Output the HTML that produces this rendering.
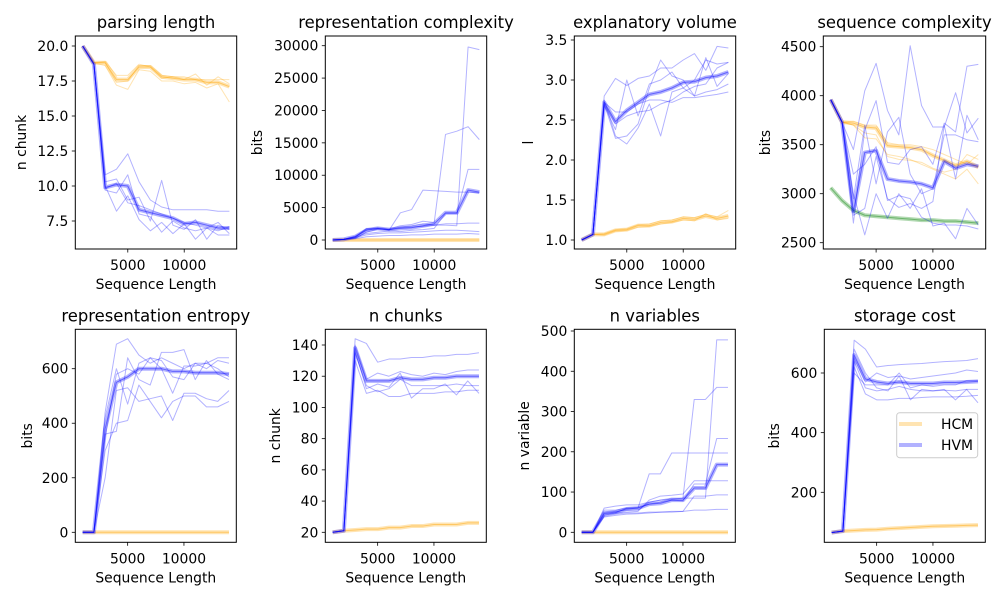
<!DOCTYPE html>
<html><head><meta charset="utf-8"><style>
body{margin:0;background:#fff}
svg{display:block;font-family:"DejaVu Sans","Liberation Sans",sans-serif}
</style></head><body>
<svg id="fig" width="1000" height="600" viewBox="0 0 1000 600"></svg>
<script>
const xs=[1000,2000,3000,4000,5000,6000,7000,8000,9000,10000,11000,12000,13000,14000];
const xTicks=[5000,10000];
// Panel 1 parsing length
const p1Hcm=[20,18.8,18.8,17.6,17.6,18.5,18.5,17.8,17.7,17.6,17.6,17.4,17.4,17.1];
const p1Hvm=[20,18.7,9.9,10.1,10.0,8.3,8.1,7.9,7.7,7.3,7.4,7.2,7.0,7.0];
const p1HvmRuns=[[20,18.7,10.8,11.2,12.3,10.3,9.0,8.5,8.3,8.3,8.3,8.3,8.2,8.2],[20,18.7,10.0,8.2,9.3,7.6,6.8,7.4,6.6,7.3,6.2,7.0,6.5,6.5],[20,18.7,10.3,10.5,9.0,9.2,7.5,10.4,7.2,6.9,7.6,6.2,7.2,6.9],[20,18.7,9.7,9.5,10.8,8.0,7.8,6.7,7.5,7.0,6.8,7.0,6.8,7.1],[20,18.7,9.8,10.2,8.8,8.6,8.3,8.0,7.7,7.4,7.2,7.0,7.4,6.6]];
const p1HcmRuns=[[20,18.8,18.6,17.2,16.9,18.3,18.2,17.5,17.5,17.3,17.4,17.0,17.3,16.0],[20,18.8,18.8,17.4,17.5,18.6,18.6,17.9,17.8,17.6,18.0,17.2,17.8,17.3],[20,18.8,18.9,17.9,17.9,18.7,18.5,17.7,17.8,17.8,17.6,17.6,17.6,17.6]];
const p1Ticks=[7.5,10.0,12.5,15.0,17.5,20.0];
// Panel 2 representation complexity
const p2Hcm=[0,0,0,0,0,0,0,0,0,0,0,0,0,0];
const p2Hvm=[0,100,500,1500,1800,1600,1800,1900,2200,2500,4200,4200,7700,7400];
const p2HvmRuns=[[0,100,400,1800,1800,1500,4200,4700,7700,7600,7500,7400,7400,7300],[0,100,600,1700,1900,1700,2200,2400,2900,2700,16300,16800,17500,15500],[0,100,300,1200,1700,1600,2000,2200,2500,2300,2300,2200,29800,29400],[0,100,400,1000,1200,1400,1300,1500,1600,1800,4100,4100,10900,10900],[0,100,300,800,1000,1100,1100,1200,1300,1400,1500,1500,1400,1300],[0,80,200,500,600,700,700,800,800,900,900,900,1000,900],[0,100,500,1600,1700,1600,1900,2000,2100,2300,2500,2500,2600,2600]];
const p2Ticks=[0,5000,10000,15000,20000,25000,30000];
// Panel 3 explanatory volume
const p3Hcm=[1.0,1.07,1.07,1.12,1.13,1.18,1.18,1.22,1.23,1.27,1.26,1.30,1.27,1.30];
const p3Hvm=[1.0,1.07,2.72,2.48,2.62,2.72,2.82,2.85,2.90,2.97,2.98,3.03,3.05,3.10];
const p3HvmRuns=[[1,1.07,2.8,3.02,2.93,3.02,3.05,3.15,3.15,3.25,3.33,3.12,3.42,3.40],[1,1.07,2.75,2.30,2.20,2.40,2.70,2.30,2.85,2.90,3.0,3.25,3.2,3.22],[1,1.07,2.7,2.27,2.30,2.45,2.90,3.25,3.05,3.0,2.8,3.28,2.92,3.08],[1,1.07,2.68,2.38,3.0,2.55,2.95,3.0,3.1,2.9,2.8,2.85,2.88,2.95],[1,1.07,2.72,2.6,2.6,2.7,2.75,2.75,2.72,2.78,2.78,2.8,2.82,2.85],[1,1.07,2.7,2.45,2.55,2.6,2.62,2.7,2.75,2.85,2.92,2.95,3.15,3.22]];
const p3HcmRuns=[[1,1.07,1.06,1.11,1.12,1.16,1.17,1.2,1.22,1.25,1.24,1.33,1.25,1.27],[1,1.07,1.08,1.13,1.14,1.19,1.2,1.24,1.25,1.29,1.28,1.32,1.29,1.37]];
const p3Ticks=[1.0,1.5,2.0,2.5,3.0,3.5];
// Panel 4 sequence complexity
const p4Hcm=[3960,3730,3720,3680,3670,3490,3480,3470,3450,3390,3340,3290,3330,3270];
const p4Hvm=[3960,3730,2820,3420,3440,3150,3130,3120,3100,3060,3330,3260,3300,3280];
const p4Green=[3060,2930,2830,2780,2770,2760,2750,2740,2730,2730,2720,2720,2710,2700];
const p4HvmRuns=[[3960,3730,3450,4050,4330,3850,3600,4510,3900,3680,3680,4030,3620,3770],[3960,3730,2700,3650,3950,3320,3300,3450,3480,3300,3720,3630,4300,4320],[3960,3730,3000,2580,3000,2750,3000,2850,3050,2670,2700,2540,2850,2680],[3960,3730,2950,3700,3100,3630,3780,3200,3000,3050,3600,3600,3550,3530],[3960,3730,2780,2850,3380,2950,2860,2900,2850,2920,3700,3150,3800,3550],[3960,3730,3200,3300,3480,2930,2980,2950,2760,2700,2680,2680,2670,2640]];
const p4HcmRuns=[[3960,3730,3700,3570,3560,3400,3380,3350,3300,3250,3200,3150,3250,3100],[3960,3730,3700,3620,3600,3380,3350,3340,3320,3260,3220,3250,3400,3350],[3960,3730,3740,3700,3700,3520,3500,3500,3480,3450,3400,3350,3300,3400]];
const p4Ticks=[2500,3000,3500,4000,4500];
// Panel 5 representation entropy
const p5Hcm=[0,0,0,0,0,0,0,0,0,0,0,0,0,0];
const p5Hvm=[0,0,380,550,570,600,600,600,590,590,585,585,585,580];
const p5HvmRuns=[[0,0,440,690,710,650,620,640,620,600,620,600,630,620],[0,0,360,370,640,560,540,660,660,670,560,630,580,560],[0,0,300,400,410,540,480,420,480,500,500,460,460,480],[0,0,200,520,530,480,490,500,410,510,510,490,480,520],[0,0,420,600,470,620,640,600,510,610,610,620,600,570],[0,0,350,580,600,580,640,630,570,560,620,620,640,640]];
const p5Ticks=[0,200,400,600];
// Panel 6 n chunks
const p6Hcm=[20,21,21.5,22,22,23,23,24,24,25,25,25,26,26];
const p6Hvm=[20,21,138,117,117,117,119,118,118,119,119,120,120,120];
const p6HvmRuns=[[20,21,144,141,129,131,131,132,132,133,133,134,134,135],[20,21,130,109,111,107,107,109,109,109,110,110,111,111],[20,21,136,112,115,113,122,106,112,112,115,108,117,109],[20,21,140,118,122,120,123,121,120,122,121,123,124,124],[20,21,135,114,110,112,118,114,114,114,114,115,114,114]];
const p6Ticks=[20,40,60,80,100,120,140];
// Panel 7 n variables
const p7Hcm=[0,0,0,0,0,0,0,0,0,0,0,0,0,0];
const p7Hvm=[0,0,47,50,58,60,70,72,80,80,110,110,168,168];
const p7HvmRuns=[[0,0,55,55,60,60,145,145,197,197,197,197,197,197],[0,0,50,52,55,55,75,80,82,85,330,330,360,360],[0,0,60,65,68,68,75,80,85,85,85,85,478,478],[0,0,45,48,60,62,70,75,80,78,120,120,233,233],[0,0,40,45,48,48,50,50,52,52,55,55,57,57],[0,0,42,48,50,52,80,90,92,95,128,128,128,128],[0,0,38,42,45,46,48,50,50,52,90,90,93,93]];
const p7Ticks=[0,100,200,300,400,500];
// Panel 8 storage cost
const p8Hcm=[65,70,72,74,75,78,80,82,84,86,87,88,89,90];
const p8Hvm=[65,70,660,580,570,565,570,565,565,565,568,568,570,572];
const p8HvmRuns=[[65,70,710,680,620,625,628,630,632,635,638,640,642,648],[65,70,620,530,510,510,515,515,518,520,520,520,522,525],[65,70,680,600,550,540,590,510,545,540,545,510,545,500],[65,70,650,570,600,585,590,580,585,590,595,600,610,605],[65,70,640,550,540,545,555,545,540,540,542,540,545,545],[65,70,600,560,560,560,600,550,560,555,560,560,575,575]];
const p8Ticks=[200,400,600];

const NS="http://www.w3.org/2000/svg";
const svg=document.getElementById('fig');
function mk(tag,attrs,parent){const e=document.createElementNS(NS,tag);for(const k in attrs)e.setAttribute(k,attrs[k]);(parent||svg).appendChild(e);return e;}

const panels=[
 {name:'parsing-length',title:'parsing length',ylabel:'n chunk',L:75.3,R:236.7,T:36,B:249,v1:20,p1:46,v2:7.5,p2:221,ticks:p1Ticks,fmt:v=>v.toFixed(1),ylx:21,hcm:p1Hcm,hvm:p1Hvm,hvmRuns:p1HvmRuns,hcmRuns:p1HcmRuns},
 {name:'representation-complexity',title:'representation complexity',ylabel:'bits',L:325.3,R:486.7,T:36,B:249,v1:30000,p1:45.7,v2:0,p2:240,ticks:p2Ticks,fmt:v=>String(v),ylx:257,hcm:p2Hcm,hvm:p2Hvm,hvmRuns:p2HvmRuns,hcmRuns:[]},
 {name:'explanatory-volume',title:'explanatory volume',ylabel:'l',L:574.3,R:735.7,T:36,B:249,v1:3.5,p1:40,v2:1.0,p2:240,ticks:p3Ticks,fmt:v=>v.toFixed(1),ylx:528,hcm:p3Hcm,hvm:p3Hvm,hvmRuns:p3HvmRuns,hcmRuns:p3HcmRuns},
 {name:'sequence-complexity',title:'sequence complexity',ylabel:'bits',L:823.3,R:985.7,T:36,B:249,v1:4500,p1:46.7,v2:2500,p2:242.7,ticks:p4Ticks,fmt:v=>String(v),ylx:765,hcm:p4Hcm,hvm:p4Hvm,hvmRuns:p4HvmRuns,hcmRuns:p4HcmRuns,green:p4Green},
 {name:'representation-entropy',title:'representation entropy',ylabel:'bits',L:75.3,R:236.3,T:329.3,B:542.3,v1:600,p1:368.7,v2:0,p2:532.3,ticks:p5Ticks,fmt:v=>String(v),ylx:27,hcm:p5Hcm,hvm:p5Hvm,hvmRuns:p5HvmRuns,hcmRuns:[]},
 {name:'n-chunks',title:'n chunks',ylabel:'n chunk',L:325.3,R:486.3,T:329.3,B:542.3,v1:140,p1:345,v2:20,p2:532.3,ticks:p6Ticks,fmt:v=>String(v),ylx:275,hcm:p6Hcm,hvm:p6Hvm,hvmRuns:p6HvmRuns,hcmRuns:[]},
 {name:'n-variables',title:'n variables',ylabel:'n variable',L:574.3,R:735.3,T:329.3,B:542.3,v1:500,p1:331,v2:0,p2:532.3,ticks:p7Ticks,fmt:v=>String(v),ylx:524,hcm:p7Hcm,hvm:p7Hvm,hvmRuns:p7HvmRuns,hcmRuns:[]},
 {name:'storage-cost',title:'storage cost',ylabel:'bits',L:824.3,R:985.3,T:329.3,B:542.3,v1:600,p1:373,v2:200,p2:492.3,ticks:p8Ticks,fmt:v=>String(v),ylx:774,hcm:p8Hcm,hvm:p8Hvm,hvmRuns:p8HvmRuns,hcmRuns:[],legend:true}
];

panels.forEach((P,i)=>{
 const g=mk('g',{});
 
 
 const xf=x=>P.L+(x-350)/14300*(P.R-P.L);
 const yf=v=>P.p2+(v-P.v2)/(P.v1-P.v2)*(P.p1-P.p2);
 const cp=mk('clipPath',{id:'c'+i},g);
 mk('rect',{x:P.L,y:P.T,width:P.R-P.L,height:P.B-P.T},cp);
 const plot=mk('g',{'clip-path':'url(#c'+i+')'},g);
 const pts=arr=>arr.map((v,k)=>xf(xs[k]).toFixed(2)+','+yf(v).toFixed(2)).join(' ');
 function line(arr,color,w,op,nm){
   const l=mk('polyline',{points:pts(arr),fill:'none',stroke:color,'stroke-width':w,'stroke-opacity':op,'stroke-linejoin':'round'},plot);
   
   
 }
 if(P.green){line(P.green,'green',4,0.3,'green-mean-line');line(P.green,'green',1,0.4,'green-line');}
 P.hcmRuns.forEach(r=>line(r,'orange',1,0.3,'hcm-run-line'));
 line(P.hcm,'orange',4,0.3,'hcm-mean-band');
 line(P.hcm,'orange',1,0.45,'hcm-mean-line');
 P.hvmRuns.forEach(r=>line(r,'blue',1,0.3,'hvm-run-line'));
 line(P.hvm,'blue',4,0.3,'hvm-mean-band');
 line(P.hvm,'blue',1,0.45,'hvm-mean-line');
 const fr=mk('rect',{x:P.L,y:P.T,width:P.R-P.L,height:P.B-P.T,fill:'none',stroke:'#000','stroke-width':1},g);
 
 
 xTicks.forEach(t=>{
   const x=xf(t);
   mk('line',{x1:x,x2:x,y1:P.B,y2:P.B+3.5,stroke:'#000','stroke-width':0.8},g);
   const tx=mk('text',{x:x,y:P.B+21,'font-size':13.9,'text-anchor':'middle'},g);tx.textContent=t;
   
   
 });
 P.ticks.forEach(t=>{
   const y=yf(t);
   mk('line',{x1:P.L-3.5,x2:P.L,y1:y,y2:y,stroke:'#000','stroke-width':0.8},g);
   const tx=mk('text',{x:P.L-7,y:y+5,'font-size':13.9,'text-anchor':'end'},g);tx.textContent=P.fmt(t);
   
   
 });
 const xl=mk('text',{x:(P.L+P.R)/2,y:P.B+40,'font-size':13.9,'text-anchor':'middle'},g);xl.textContent='Sequence Length';
 
 
 const cy=(P.T+P.B)/2;
 const yl=mk('text',{x:P.ylx,y:cy,'font-size':13.9,'text-anchor':'middle',transform:'rotate(-90 '+P.ylx+' '+cy+')',dy:'0.35em'},g);yl.textContent=P.ylabel;
 
 
 const tt=mk('text',{x:(P.L+P.R)/2,y:P.T-8,'font-size':16.4,'text-anchor':'middle'},g);tt.textContent=P.title;
 
 
 if(P.legend){
   const lg=mk('g',{},g);
   
   
   mk('rect',{x:896.7,y:412.7,width:81,height:45,rx:3,fill:'#fff','fill-opacity':0.8,stroke:'#ccc','stroke-width':1},lg);
   mk('line',{x1:899,x2:922,y1:424,y2:424,stroke:'orange','stroke-width':4,'stroke-opacity':0.3},lg);
   mk('line',{x1:899,x2:922,y1:445,y2:445,stroke:'blue','stroke-width':4,'stroke-opacity':0.3},lg);
   const a=mk('text',{x:941,y:429,'font-size':13.9},lg);a.textContent='HCM';
   
   
   const b=mk('text',{x:941,y:450,'font-size':13.9},lg);b.textContent='HVM';
   
   
 }
});
</script>
</body></html>
